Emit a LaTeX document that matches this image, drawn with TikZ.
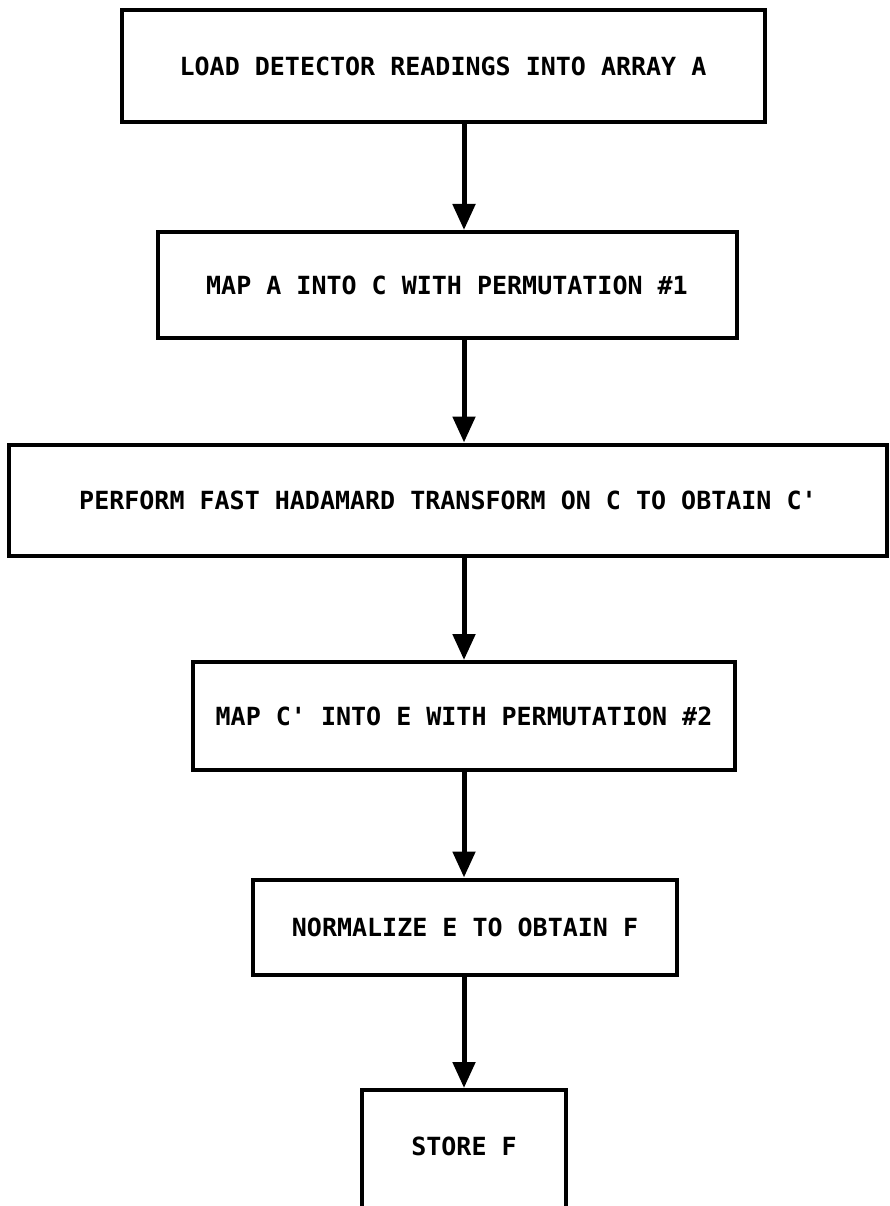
\documentclass[tikz,border=0pt]{standalone}
\usepackage{fontspec}
\setmonofont{DejaVu Sans Mono}
\usetikzlibrary{arrows.meta}
\tikzset{
  stepbox/.style={draw, line width=4pt, shape=rectangle, inner sep=0pt,
    font=\ttfamily\bfseries\fontsize{25}{30}\selectfont},
  flow/.style={line width=5pt, -{Triangle[length=26pt,width=22pt]}}
}

\begin{document}
\begin{tikzpicture}[x=1pt,y=-1pt]
\clip (0,0) rectangle (890,1206);
\fill[white] (0,0) rectangle (890,1206);

\node[stepbox, minimum width=643pt, minimum height=112pt]
(node0) at (443,66) {LOAD DETECTOR READINGS INTO ARRAY A};
\node[stepbox, minimum width=579pt, minimum height=106pt]
(node1) at (447,285) {MAP A INTO C WITH PERMUTATION \#1};
\node[stepbox, minimum width=878pt, minimum height=111pt]
(node2) at (448,500) {PERFORM FAST HADAMARD TRANSFORM ON C TO OBTAIN C'};
\node[stepbox, minimum width=542pt, minimum height=108pt]
(node3) at (464,716) {MAP C' INTO E WITH PERMUTATION \#2};
\node[stepbox, minimum width=424pt, minimum height=95pt]
(node4) at (465,927) {NORMALIZE E TO OBTAIN F};
\node[stepbox, minimum width=204pt, minimum height=126pt, text depth=14pt]
(node5) at (464,1153) {STORE F};

\draw[flow] (node0.south -| node3) -- (node1.north -| node3);
\draw[flow] (node1.south -| node3) -- (node2.north -| node3);
\draw[flow] (node2.south -| node3) -- (node3.north);
\draw[flow] (node3.south) -- (node4.north -| node3);
\draw[flow] (node4.south -| node3) -- (node5.north -| node3);

\end{tikzpicture}
\end{document}
